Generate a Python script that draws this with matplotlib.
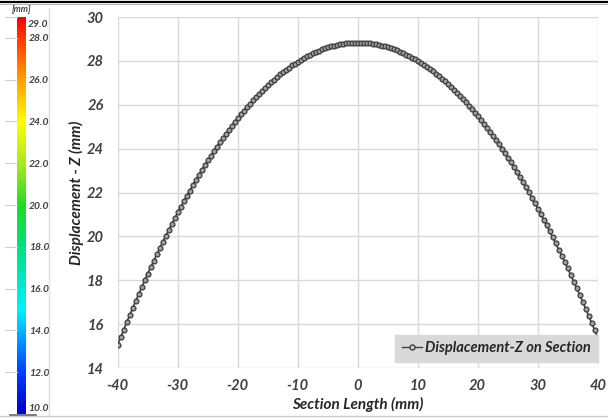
import numpy as np
import matplotlib
matplotlib.use("Agg")
import matplotlib.pyplot as plt
from matplotlib.colors import LinearSegmentedColormap
from matplotlib.lines import Line2D

# ---- data ----
section_x = np.linspace(-40, 40, 161)
displacement_z = [
    15.07, 15.41, 15.75, 16.08, 16.41, 16.74, 17.06, 17.37, 17.68, 17.99,
    18.30, 18.59, 18.89, 19.18, 19.46, 19.75, 20.02, 20.30, 20.57, 20.83,
    21.09, 21.35, 21.60, 21.85, 22.09, 22.33, 22.56, 22.79, 23.02, 23.24,
    23.46, 23.67, 23.88, 24.08, 24.28, 24.48, 24.67, 24.85, 25.04, 25.22,
    25.39, 25.56, 25.73, 25.89, 26.04, 26.20, 26.34, 26.49, 26.63, 26.76,
    26.90, 27.02, 27.14, 27.26, 27.38, 27.49, 27.59, 27.69, 27.79, 27.88,
    27.97, 28.05, 28.13, 28.21, 28.28, 28.35, 28.41, 28.47, 28.52, 28.57,
    28.62, 28.66, 28.69, 28.72, 28.75, 28.78, 28.80, 28.81, 28.82, 28.83,
    28.83,
    28.83, 28.82, 28.81, 28.80, 28.78, 28.75, 28.73, 28.70, 28.66, 28.62,
    28.58, 28.53, 28.48, 28.42, 28.36, 28.29, 28.22, 28.15, 28.07, 27.99,
    27.90, 27.81, 27.72, 27.62, 27.52, 27.41, 27.30, 27.18, 27.06, 26.94,
    26.81, 26.68, 26.54, 26.40, 26.26, 26.11, 25.96, 25.80, 25.64, 25.47,
    25.30, 25.13, 24.95, 24.76, 24.58, 24.39, 24.19, 23.99, 23.79, 23.58,
    23.37, 23.15, 22.93, 22.71, 22.48, 22.24, 22.01, 21.77, 21.52, 21.27,
    21.02, 20.76, 20.50, 20.23, 19.96, 19.68, 19.40, 19.12, 18.83, 18.54,
    18.24, 17.94, 17.64, 17.33, 17.02, 16.70, 16.38, 16.05, 15.72, 15.39,
]
x_ticks = [-40, -30, -20, -10, 0, 10, 20, 30, 40]
y_ticks = [14, 16, 18, 20, 22, 24, 26, 28, 30]
cbar_ticks = [12, 14, 16, 18, 20, 22, 24, 26, 28]
cbar_min, cbar_max = 10.0, 29.0
series_label = "Displacement-Z on Section"

plt.rcParams['font.family'] = ['Lato', 'DejaVu Sans']
plt.rcParams['font.weight'] = 'bold'
plt.rcParams['font.style'] = 'italic'
plt.rcParams['axes.labelweight'] = 'bold'
plt.rcParams['axes.unicode_minus'] = False

W, H = 608, 419
fig = plt.figure(figsize=(W / 100, H / 100), dpi=100)

def fx(px):
    return px / W

def fy(py):
    return 1 - py / H

# ---- main axes ----
left, right, top, bottom = 117.7, 597.7, 17, 368
ax = fig.add_axes([fx(left), fy(bottom), fx(right - left), (bottom - top) / H])
ax.plot(section_x, displacement_z, color='#404040', lw=1.2, marker='o',
        markersize=3.5, markerfacecolor='#a0a0a0', markeredgecolor='#3c3c3c',
        markeredgewidth=0.9, zorder=3)
ax.set_xlim(-40, 40)
ax.set_ylim(14, 30)
ax.set_xticks(x_ticks, labels=[str(v) for v in x_ticks])
ax.set_yticks(y_ticks, labels=[str(v) for v in y_ticks])
ax.grid(True, color='#d9d9d9', lw=1.0)
ax.set_axisbelow(True)
for s in ax.spines.values():
    s.set_visible(False)
ax.tick_params(length=0, labelsize=10.5, colors='#404040', pad=10)
ax.tick_params(axis='x', pad=8)
ax.set_xlabel("Section Length (mm)", fontsize=11, color='#262626', labelpad=3)
ax.set_ylabel("Displacement - Z (mm)", fontsize=11, color='#262626', labelpad=2)

handle = Line2D([], [], color='#404040', lw=1.0, marker='o', markersize=3.6,
                markerfacecolor='#d0d0d0', markeredgecolor='#404040')
leg = ax.legend([handle], [series_label], loc='lower right',
                bbox_to_anchor=(1.0, 0.017), borderaxespad=0, frameon=True,
                fancybox=False, handlelength=1.4, handletextpad=0.2,
                borderpad=0.45, prop={'size': 10.5})
leg.get_frame().set_facecolor('#d9d9d9')
leg.get_frame().set_edgecolor('#d9d9d9')
leg.get_frame().set_alpha(1)
for t in leg.get_texts():
    t.set_color('#262626')

# ---- colour legend ----
cmap = LinearSegmentedColormap.from_list('fem', [
    (0.0, '#0000c8'),
    (0.105, '#0040ff'),
    (0.26, '#00f0ff'),
    (0.42, '#00e080'),
    (0.526, '#20dd20'),
    (0.63, '#a8e820'),
    (0.737, '#ffff00'),
    (0.842, '#ffa000'),
    (0.947, '#ff3a00'),
    (1.0, '#ff0000'),
])
cb_left, cb_right, cb_top, cb_bot = 17, 26, 17, 414
cax = fig.add_axes([fx(cb_left), fy(cb_bot), fx(cb_right - cb_left),
                    (cb_bot - cb_top) / H])
grad = np.linspace(cbar_min, cbar_max, 400).reshape(-1, 1)
cax.imshow(grad, aspect='auto', cmap=cmap, origin='lower',
           extent=[0, 1, cbar_min, cbar_max])
cax.set_xlim(0, 1)
cax.set_ylim(cbar_min, cbar_max)
cax.set_xticks([])
cax.set_yticks(cbar_ticks, labels=[f"{v:.1f}" for v in cbar_ticks])
cax.yaxis.tick_right()
cax.tick_params(axis='y', length=0, pad=2, labelsize=7.5, colors='#404040')
for s in cax.spines.values():
    s.set_visible(False)
cax.text(1.2, cbar_max - 0.12, f"{cbar_max:.1f}", transform=cax.get_yaxis_transform(),
         va='top', ha='left', fontsize=7.5, color='#404040')
cax.text(1.2, cbar_min + 0.05, f"{cbar_min:.1f}", transform=cax.get_yaxis_transform(),
         va='bottom', ha='left', fontsize=7.5, color='#404040')
# faint tick lines to the left of the bar
for v in cbar_ticks + [cbar_max]:
    cax.plot([-1.3, 0], [v, v], color='#cfcfcf', lw=0.8, clip_on=False)
fig.text(fx(22), fy(9), "[mm]", ha='center', va='center', fontsize=6.5,
         color='#404040')

# ---- frame decorations ----
fig.add_artist(Line2D([0, 1], [fy(2), fy(2)], transform=fig.transFigure,
                      color='black', lw=1.6))
fig.add_artist(Line2D([0, 1], [fy(4.2), fy(4.2)], transform=fig.transFigure,
                      color='#aaaaaa', lw=0.6))
fig.add_artist(Line2D([fx(48.5), fx(48.5)], [fy(8), fy(416)], transform=fig.transFigure,
                      color='#dddddd', lw=1.0))
fig.add_artist(Line2D([0, 1], [fy(416), fy(416)], transform=fig.transFigure,
                      color='#cccccc', lw=1.0))
fig.add_artist(Line2D([fx(10), fx(36)], [fy(414.5), fy(414.5)], transform=fig.transFigure,
                      color='#666666', lw=1.2))

fig.savefig("out.png", dpi=100)
